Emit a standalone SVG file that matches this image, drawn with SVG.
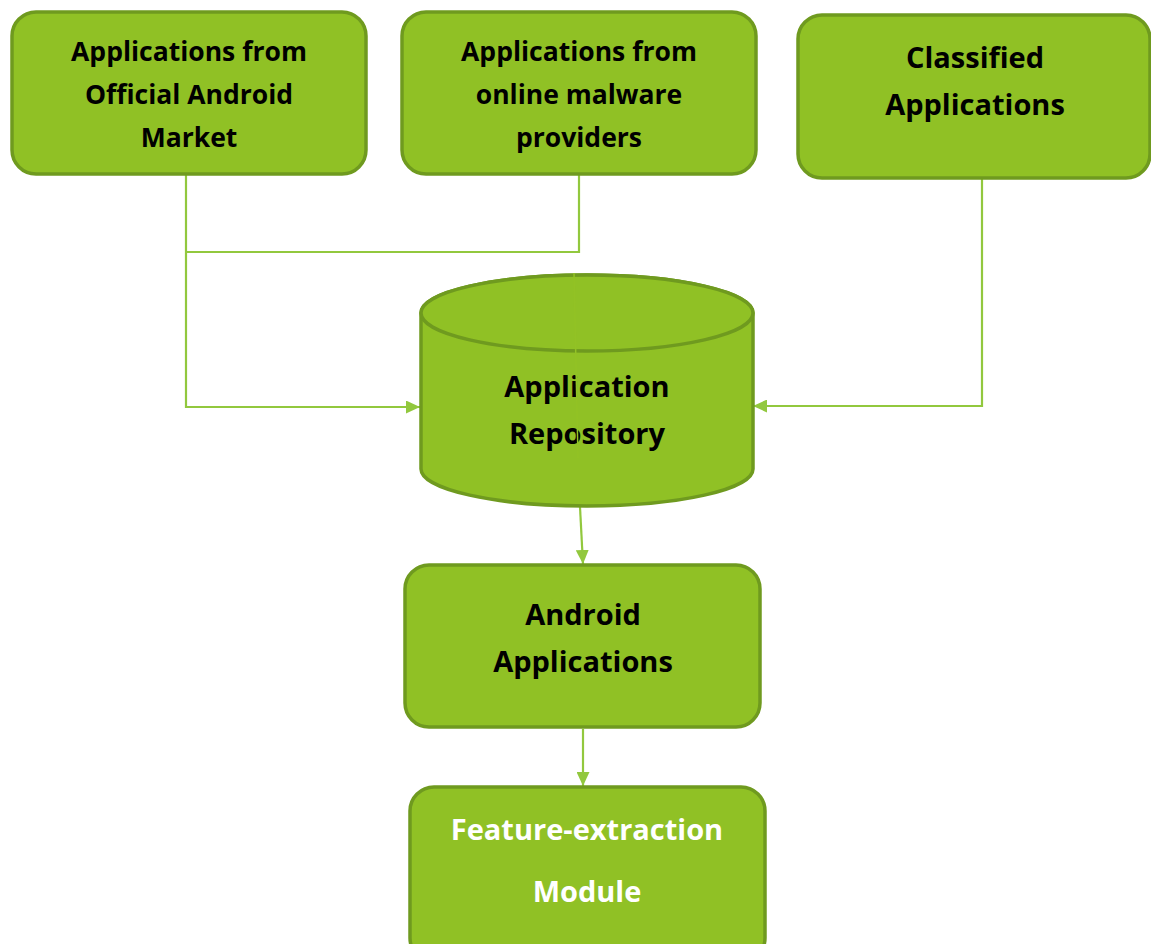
<svg xmlns="http://www.w3.org/2000/svg" width="1151" height="944" viewBox="0 0 1151 944">
<style>
.box{fill:#90c125;stroke:#6f9a1f;stroke-width:3.5}
.t{font-family:"Open Sans",Lato,sans-serif;font-weight:bold;font-size:26.5px;fill:#000;text-anchor:middle}
.L{font-size:29px}
.w{fill:#fff}
.c{fill:none;stroke:#92c83e;stroke-width:2.2}
</style>
<defs>
<marker id="ah" viewBox="0 0 14 13" refX="14" refY="6.5" markerWidth="14" markerHeight="13" markerUnits="userSpaceOnUse" orient="auto">
<path d="M0,0 L14,6.5 L0,13 Z" fill="#92c83e"/>
</marker>
</defs>
<rect width="1151" height="944" fill="#fff"/>
<g id="connectors">
<polyline class="c" points="186,175 186,407 420,407" marker-end="url(#ah)"/>
<polyline class="c" points="579,175 579,252 186,252"/>
<polyline class="c" points="982,179 982,406 753,406" marker-end="url(#ah)"/>
<line class="c" x1="580" y1="507" x2="583" y2="564" marker-end="url(#ah)"/>
<line class="c" x1="583" y1="729" x2="583" y2="786" marker-end="url(#ah)"/>
</g>
<g id="n1">
<rect class="box" x="12" y="12" width="354" height="162" rx="24"/>
<text class="t" x="189" y="61">Applications from</text>
<text class="t" x="189" y="104">Official Android</text>
<text class="t" x="189" y="147">Market</text>
</g>
<g id="n2">
<rect class="box" x="402" y="12" width="354" height="162" rx="24"/>
<text class="t" x="579" y="61">Applications from</text>
<text class="t" x="579" y="104">online malware</text>
<text class="t" x="579" y="147">providers</text>
</g>
<g id="n3">
<rect class="box" x="798" y="15" width="352" height="163" rx="24"/>
<text class="t L" x="975" y="68">Classified</text>
<text class="t L" x="975" y="115">Applications</text>
</g>
<g id="repo">
<path class="box" d="M421,313 L421,469 A166,37 0 0 0 753,469 L753,313 A166,38 0 0 0 421,313 Z"/>
<ellipse class="box" cx="587" cy="313" rx="166" ry="38"/>
<text class="t L" x="587" y="397">Application</text>
<text class="t L" x="587" y="444">Repository</text>
<line x1="574" y1="273" x2="578" y2="458" stroke="#92c225" stroke-width="1.5"/>
</g>
<g id="n4">
<rect class="box" x="405" y="565" width="355" height="162" rx="24"/>
<text class="t L" x="583" y="625">Android</text>
<text class="t L" x="583" y="672">Applications</text>
</g>
<g id="n5">
<rect class="box" x="410" y="787" width="355" height="175" rx="24"/>
<text class="t L w" x="587" y="840">Feature-extraction</text>
<text class="t L w" x="587" y="902">Module</text>
</g>
</svg>
